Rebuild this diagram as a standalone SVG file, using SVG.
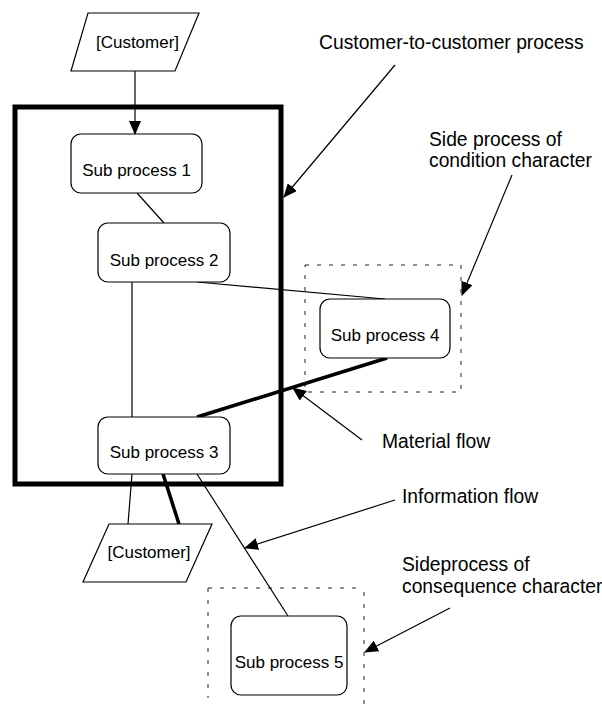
<svg xmlns="http://www.w3.org/2000/svg" width="602" height="711" viewBox="0 0 602 711">
  <style>
    .node { fill: #fff; stroke: #000; stroke-width: 1.2; }
    .ntext { font-family: "Liberation Sans", Arial, sans-serif; font-size: 17px; fill: #000; text-anchor: middle; }
    .label { font-family: "Liberation Sans", Arial, sans-serif; font-size: 19.3px; fill: #000; }
    .thin { stroke: #000; stroke-width: 1.2; fill: none; }
    .thick { stroke: #000; stroke-width: 3.5; fill: none; }
    .dash { stroke: #222; stroke-width: 1; fill: none; stroke-dasharray: 4 8; }
    .pointer { stroke: #000; stroke-width: 1.2; fill: none; marker-end: url(#head); }
  </style>
  <defs>
    <marker id="head" markerUnits="userSpaceOnUse" markerWidth="14" markerHeight="12" viewBox="0 0 14 12" refX="13" refY="6" orient="auto">
      <path d="M0,0 L14,6 L0,12 Z" fill="#000"/>
    </marker>
  </defs>

  <!-- customer-to-customer process boundary -->
  <g id="main-process">
    <rect x="15" y="107" width="266" height="377" fill="none" stroke="#000" stroke-width="5"/>
  </g>

  <!-- side process boundaries -->
  <g id="side-condition">
    <rect x="305" y="265" width="156" height="127" class="dash"/>
  </g>
  <g id="side-consequence">
    <path d="M208,588 H356" class="dash"/>
    <path d="M208,588 V698" class="dash"/>
    <path d="M364,592 V711" class="dash"/>
  </g>

  <!-- connectors -->
  <g id="connectors">
    <path d="M135,71 V134" class="pointer"/>
    <path d="M137,193 L164,223" class="thin"/>
    <path d="M132,282 V417" class="thin"/>
    <path d="M197,282 L385,299" class="thin"/>
    <path d="M197,417 L387,358" class="thick"/>
    <path d="M132,474 L128,524" class="thin"/>
    <path d="M163,474 L179,524" class="thick"/>
    <path d="M197,474 L288,616" class="thin"/>
  </g>

  <!-- nodes -->
  <g id="customer-in">
    <path d="M88,13 H199 L175,71 H71 Z" class="node"/>
    <text x="137.5" y="48" class="ntext">[Customer]</text>
  </g>
  <g id="sub1">
    <rect x="71" y="134" width="131" height="59" rx="10" class="node"/>
    <text x="136.5" y="176" class="ntext">Sub process 1</text>
  </g>
  <g id="sub2">
    <rect x="98" y="223" width="132" height="59" rx="10" class="node"/>
    <text x="164" y="266" class="ntext">Sub process 2</text>
  </g>
  <g id="sub3">
    <rect x="98" y="417" width="132" height="57" rx="10" class="node"/>
    <text x="164" y="458" class="ntext">Sub process 3</text>
  </g>
  <g id="sub4">
    <rect x="320" y="299" width="130" height="59" rx="10" class="node"/>
    <text x="385" y="341" class="ntext">Sub process 4</text>
  </g>
  <g id="customer-out">
    <path d="M109,524 H212 L186,582 H83 Z" class="node"/>
    <text x="149" y="558" class="ntext">[Customer]</text>
  </g>
  <g id="sub5">
    <rect x="231" y="616" width="116" height="79" rx="10" class="node"/>
    <text x="289" y="668" class="ntext">Sub process 5</text>
  </g>

  <!-- annotations -->
  <g id="annotations">
    <text x="319" y="49" class="label">Customer-to-customer process</text>
    <path d="M395,65 L284,197" class="pointer"/>
    <text x="429" y="146" class="label">Side process of</text>
    <text x="429" y="167" class="label">condition character</text>
    <path d="M512,175 L462,295" class="pointer"/>
    <text x="382" y="448" class="label">Material flow</text>
    <path d="M362,440 L293,388" class="pointer"/>
    <text x="402" y="503" class="label">Information flow</text>
    <path d="M395,500 L245,548" class="pointer"/>
    <text x="402" y="571" class="label">Sideprocess of</text>
    <text x="402" y="593" class="label">consequence character</text>
    <path d="M450,608 L365,652" class="pointer"/>
  </g>
</svg>
